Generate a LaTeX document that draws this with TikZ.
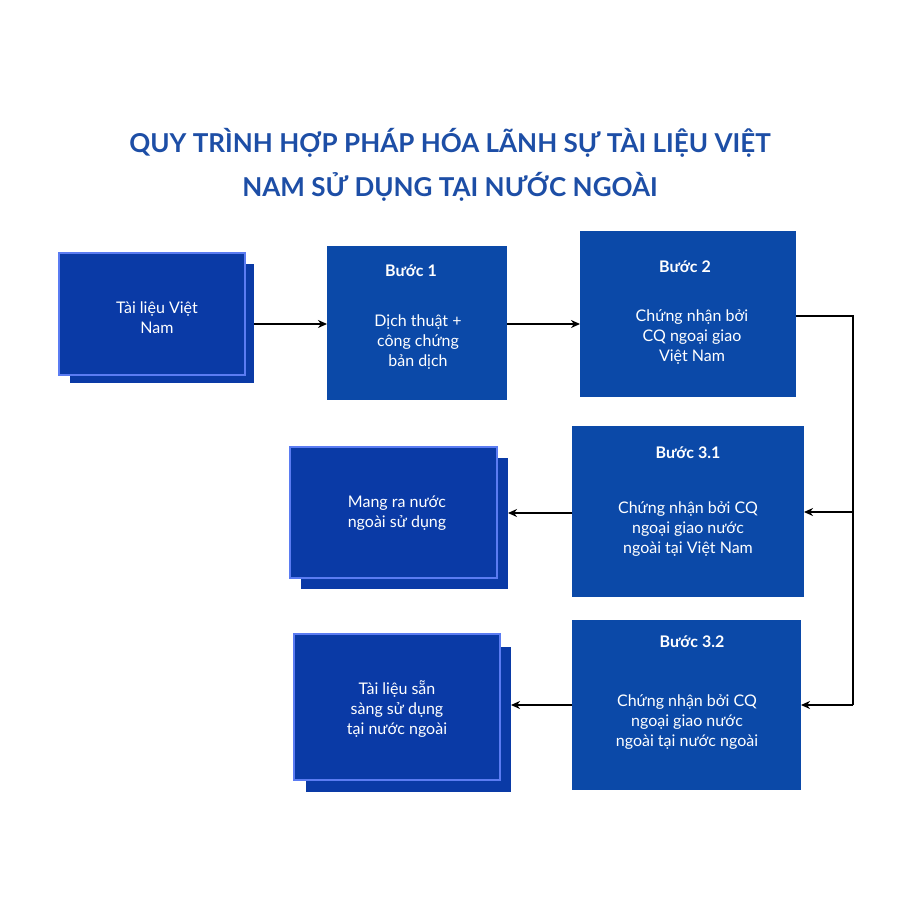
\documentclass[tikz,border=0pt]{standalone}
\usepackage{fontspec}
\setmainfont{Lato}
\usetikzlibrary{arrows.meta}
\definecolor{boxblue}{HTML}{0B49A8}
\definecolor{darkblue}{HTML}{0A3AA6}
\definecolor{edgeblue}{HTML}{5B7CF2}
\definecolor{titleblue}{HTML}{1D4EA6}
\tikzset{
  plain/.style={fill=boxblue,draw=none},
  front/.style={fill=darkblue,draw=edgeblue,line width=2.5pt},
  shadowbox/.style={fill=darkblue,draw=none},
  txt/.style={text=white,font=\fontsize{16}{20}\selectfont,align=center},
  ttl/.style={text=white,font=\bfseries\fontsize{16}{20}\selectfont},
  conn/.style={line width=2pt,-{Stealth[length=9pt,width=8pt]}},
  wire/.style={line width=2pt}
}
\begin{document}
\begin{tikzpicture}[x=1pt,y=-1pt]
\useasboundingbox (0,0) rectangle (900,900);
\fill[white] (0,0) rectangle (900,900);
\node[text=titleblue,font=\bfseries\fontsize{26}{44}\selectfont,align=center] (title) at (450,165)
  {QUY TRÌNH HỢP PHÁP HÓA LÃNH SỰ TÀI LIỆU VIỆT\\NAM SỬ DỤNG TẠI NƯỚC NGOÀI};
% A
\fill[shadowbox] (70,264) rectangle (254,383);
\draw[front] (59,253) rectangle (245,375);
\node[txt] (A) at (157,318) {Tài liệu Việt\\Nam};
\coordinate (Ar) at (254,324);
% B1
\fill[plain] (327,246) rectangle (507,400);
\node[ttl] (B1t) at (411,271) {Bước 1};
\node[txt] (B1) at (418,342) {Dịch thuật +\\công chứng\\bản dịch};
\coordinate (B1l) at (327,324); \coordinate (B1r) at (507,324);
% B2
\fill[plain] (580,231) rectangle (796,397);
\node[ttl] (B2t) at (685,267) {Bước 2};
\node[txt] (B2) at (692,337) {Chứng nhận bởi\\CQ ngoại giao\\Việt Nam};
\coordinate (B2l) at (580,324); \coordinate (B2r) at (796,316);
% B31
\fill[plain] (572,426) rectangle (804,597);
\node[ttl] (B31t) at (688,453) {Bước 3.1};
\node[txt] (B31) at (688,529) {Chứng nhận bởi CQ\\ngoại giao nước\\ngoài tại Việt Nam};
\coordinate (B31l) at (572,513); \coordinate (B31r) at (804,512);
% B32
\fill[plain] (572,620) rectangle (801,790);
\node[ttl] (B32t) at (692,642) {Bước 3.2};
\node[txt] (B32) at (687,722) {Chứng nhận bởi CQ\\ngoại giao nước\\ngoài tại nước ngoài};
\coordinate (B32l) at (572,705); \coordinate (B32r) at (801,705);
% M
\fill[shadowbox] (301,458) rectangle (508,589);
\draw[front] (290,447) rectangle (497,578);
\node[txt] (M) at (397,513) {Mang ra nước\\ngoài sử dụng};
\coordinate (Mr) at (508,513);
% T
\fill[shadowbox] (306,647) rectangle (511,792);
\draw[front] (294,634) rectangle (500,780);
\node[txt] (T) at (397,709) {Tài liệu sẵn\\sàng sử dụng\\tại nước ngoài};
\coordinate (Tr) at (511,705);
% connectors
\coordinate (J1) at (853,316); \coordinate (J2) at (853,512); \coordinate (J3) at (853,705);
\draw[conn] (Ar) -- (B1l);
\draw[conn] (B1r) -- (B2l);
\draw[wire] (B2r) -- (J1) -- (J3);
\draw[conn] (J2) -- (B31r);
\draw[conn] (J3) -- (B32r);
\draw[conn] (B31l) -- (Mr);
\draw[conn] (B32l) -- (Tr);
\end{tikzpicture}
\end{document}
